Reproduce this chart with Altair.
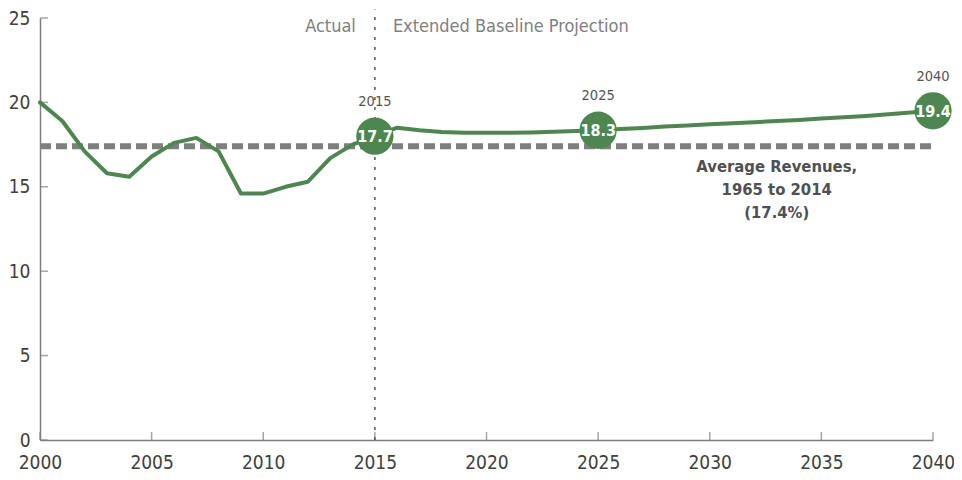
import altair as alt
import pandas as pd

years = list(range(2000, 2041))
revenues = [20.0, 18.9, 17.1, 15.8, 15.6, 16.8, 17.6, 17.9, 17.1, 14.6,
            14.6, 15.0, 15.3, 16.7, 17.5, 18.0, 18.5, 18.35, 18.25, 18.2,
            18.2, 18.2, 18.22, 18.26, 18.3, 18.35, 18.42, 18.49, 18.57, 18.63,
            18.7, 18.76, 18.82, 18.9, 18.96, 19.04, 19.12, 19.2, 19.3, 19.4, 19.5]

highlight_years = [2015, 2025, 2040]
highlight_labels = ["17.7", "18.3", "19.4"]

average_value = 17.4
average_text = "Average Revenues,\n1965 to 2014\n(17.4%)"
average_text_year = 2033

divider_year = 2015
left_label = "Actual"
right_label = "Extended Baseline Projection"

x_ticks = list(range(2000, 2041, 5))
y_ticks = [0, 5, 10, 15, 20, 25]

GREEN = "#4d874f"
GRAY = "#7f7f7f"
FONT = "DejaVu Sans Condensed, Liberation Sans Narrow, Roboto, sans-serif"
W, H = 893, 422

df = pd.DataFrame({"year": years, "rev": revenues})
rev_map = dict(zip(years, revenues))
hl = pd.DataFrame({"year": highlight_years,
                   "rev": [rev_map[y] for y in highlight_years],
                   "label": highlight_labels,
                   "ylab": [str(y) for y in highlight_years]})
avg = pd.DataFrame({"x": [years[0]], "x2": [years[-1]], "y": [average_value],
                    "xt": [average_text_year], "t": [average_text]})
div = pd.DataFrame({"x": [divider_year], "y": [0], "y2": [25.5], "yt": [25],
                    "l": [left_label], "r": [right_label]})
xt = pd.DataFrame({"v": x_ticks})
yt = pd.DataFrame({"v": y_ticks})

xs = alt.Scale(domain=[2000, 2040], nice=False)
ys = alt.Scale(domain=[0, 25], nice=False)

xaxis = alt.Axis(values=x_ticks, format="d", grid=False, ticks=False,
                 domainColor=GRAY, domainWidth=1.5, labelFontSize=19,
                 labelColor="#404040", labelFont=FONT, labelPadding=13, title=None,
                 labelFlush=False, labelOverlap=False)
yaxis = alt.Axis(values=y_ticks, grid=False, ticks=False,
                 domainColor=GRAY, domainWidth=1.5, labelFontSize=19,
                 labelColor="#404040", labelFont=FONT, labelPadding=10, title=None,
                 labelFlush=False, labelOverlap=False)

base_line = alt.Chart(df).mark_line(color=GREEN, strokeWidth=4, strokeCap="round",
                                    strokeJoin="round").encode(
    x=alt.X("year:Q", scale=xs, axis=xaxis),
    y=alt.Y("rev:Q", scale=ys, axis=yaxis),
)

avg_rule = alt.Chart(avg).mark_rule(color=GRAY, strokeWidth=6, strokeDash=[11, 5]).encode(
    x=alt.X("x:Q", scale=xs), x2="x2:Q", y=alt.Y("y:Q", scale=ys))

avg_text = alt.Chart(avg).mark_text(font=FONT, fontSize=16.5, fontWeight="bold",
                                    color="#505050", align="center", baseline="top",
                                    dy=13, lineHeight=23, lineBreak="\n").encode(
    x=alt.X("xt:Q", scale=xs), y=alt.Y("y:Q", scale=ys), text="t:N")

div_rule = alt.Chart(div).mark_rule(color="#555555", strokeWidth=1.5,
                                    strokeDash=[3, 7]).encode(
    x=alt.X("x:Q", scale=xs), y=alt.Y("y:Q", scale=ys), y2="y2:Q")

left_txt = alt.Chart(div).mark_text(font=FONT, fontSize=18, color=GRAY, align="right",
                                    baseline="middle", dx=-19, dy=9).encode(
    x=alt.X("x:Q", scale=xs), y=alt.Y("yt:Q", scale=ys), text="l:N")
right_txt = alt.Chart(div).mark_text(font=FONT, fontSize=18, color=GRAY, align="left",
                                     baseline="middle", dx=18, dy=9).encode(
    x=alt.X("x:Q", scale=xs), y=alt.Y("yt:Q", scale=ys), text="r:N")

circles = alt.Chart(hl).mark_circle(color=GREEN, size=1390, opacity=1).encode(
    x=alt.X("year:Q", scale=xs), y=alt.Y("rev:Q", scale=ys))
circle_txt = alt.Chart(hl).mark_text(font=FONT, fontSize=16, fontWeight="bold",
                                     color="white", align="center",
                                     baseline="middle", dy=1).encode(
    x=alt.X("year:Q", scale=xs), y=alt.Y("rev:Q", scale=ys), text="label:N")
year_txt = alt.Chart(hl).mark_text(font=FONT, fontSize=14.5, color="#555555",
                                   align="center", baseline="middle", dy=-34).encode(
    x=alt.X("year:Q", scale=xs), y=alt.Y("rev:Q", scale=ys), text="ylab:N")

x_tick_marks = alt.Chart(xt).mark_tick(color=GRAY, size=8, thickness=1.5,
                                       orient="vertical").encode(
    x=alt.X("v:Q", scale=xs), y=alt.value(H - 4))
y_tick_marks = alt.Chart(yt).mark_tick(color=GRAY, size=8, thickness=1.5,
                                       orient="horizontal").encode(
    y=alt.Y("v:Q", scale=ys), x=alt.value(4))

chart = alt.layer(
    x_tick_marks, y_tick_marks, div_rule, avg_rule, base_line, avg_text,
    left_txt, right_txt, circles, circle_txt, year_txt
).properties(
    width=W, height=H,
    autosize=alt.AutoSizeParams(type="none"),
    padding={"left": 32, "top": 10, "right": 21, "bottom": 32},
).configure_view(stroke=None, clip=False)

chart.save("out.html", embed_options={"renderer": "svg", "actions": False})
